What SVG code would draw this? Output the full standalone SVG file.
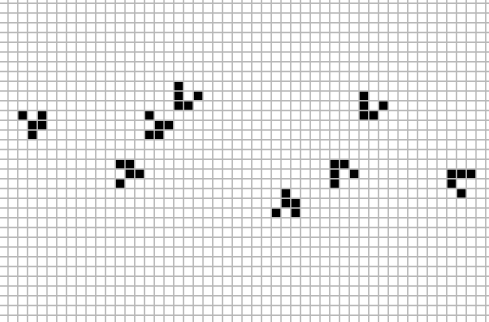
<svg xmlns="http://www.w3.org/2000/svg" width="489" height="322" viewBox="0 0 489 322">
<style>
.grid{stroke:#b8b8b8;stroke-width:1.4;fill:none}
.cell{fill:#000}
</style>
<rect width="489" height="322" fill="#ffffff"/>
<g id="cells" transform="translate(8 3.3) scale(9.75)" class="cell">
<g id="glider1"><rect x="1" y="11" width="1" height="1"/><rect x="3" y="11" width="1" height="1"/><rect x="2" y="12" width="1" height="1"/><rect x="3" y="12" width="1" height="1"/><rect x="2" y="13" width="1" height="1"/></g>
<g id="glider2"><rect x="17" y="8" width="1" height="1"/><rect x="17" y="9" width="1" height="1"/><rect x="19" y="9" width="1" height="1"/><rect x="17" y="10" width="1" height="1"/><rect x="18" y="10" width="1" height="1"/></g>
<g id="glider3"><rect x="14" y="11" width="1" height="1"/><rect x="15" y="12" width="1" height="1"/><rect x="16" y="12" width="1" height="1"/><rect x="14" y="13" width="1" height="1"/><rect x="15" y="13" width="1" height="1"/></g>
<g id="glider4"><rect x="11" y="16" width="1" height="1"/><rect x="12" y="16" width="1" height="1"/><rect x="12" y="17" width="1" height="1"/><rect x="13" y="17" width="1" height="1"/><rect x="11" y="18" width="1" height="1"/></g>
<g id="glider5"><rect x="36" y="9" width="1" height="1"/><rect x="36" y="10" width="1" height="1"/><rect x="38" y="10" width="1" height="1"/><rect x="36" y="11" width="1" height="1"/><rect x="37" y="11" width="1" height="1"/></g>
<g id="glider6"><rect x="33" y="16" width="1" height="1"/><rect x="34" y="16" width="1" height="1"/><rect x="33" y="17" width="1" height="1"/><rect x="35" y="17" width="1" height="1"/><rect x="33" y="18" width="1" height="1"/></g>
<g id="glider7"><rect x="28" y="19" width="1" height="1"/><rect x="28" y="20" width="1" height="1"/><rect x="29" y="20" width="1" height="1"/><rect x="27" y="21" width="1" height="1"/><rect x="29" y="21" width="1" height="1"/></g>
<g id="glider8"><rect x="45" y="17" width="1" height="1"/><rect x="46" y="17" width="1" height="1"/><rect x="47" y="17" width="1" height="1"/><rect x="45" y="18" width="1" height="1"/><rect x="46" y="19" width="1" height="1"/></g>
</g>
<g id="grid" class="grid">
<path d="M-1.75 0V322M8 0V322M17.75 0V322M27.5 0V322M37.25 0V322M47 0V322M56.75 0V322M66.5 0V322M76.25 0V322M86 0V322M95.75 0V322M105.5 0V322M115.25 0V322M125 0V322M134.75 0V322M144.5 0V322M154.25 0V322M164 0V322M173.75 0V322M183.5 0V322M193.25 0V322M203 0V322M212.75 0V322M222.5 0V322M232.25 0V322M242 0V322M251.75 0V322M261.5 0V322M271.25 0V322M281 0V322M290.75 0V322M300.5 0V322M310.25 0V322M320 0V322M329.75 0V322M339.5 0V322M349.25 0V322M359 0V322M368.75 0V322M378.5 0V322M388.25 0V322M398 0V322M407.75 0V322M417.5 0V322M427.25 0V322M437 0V322M446.75 0V322M456.5 0V322M466.25 0V322M476 0V322M485.75 0V322"/>
<path d="M0 3.3H489M0 13.05H489M0 22.8H489M0 32.55H489M0 42.3H489M0 52.05H489M0 61.8H489M0 71.55H489M0 81.3H489M0 91.05H489M0 100.8H489M0 110.55H489M0 120.3H489M0 130.05H489M0 139.8H489M0 149.55H489M0 159.3H489M0 169.05H489M0 178.8H489M0 188.55H489M0 198.3H489M0 208.05H489M0 217.8H489M0 227.55H489M0 237.3H489M0 247.05H489M0 256.8H489M0 266.55H489M0 276.3H489M0 286.05H489M0 295.8H489M0 305.55H489M0 315.3H489"/>
</g>
</svg>
